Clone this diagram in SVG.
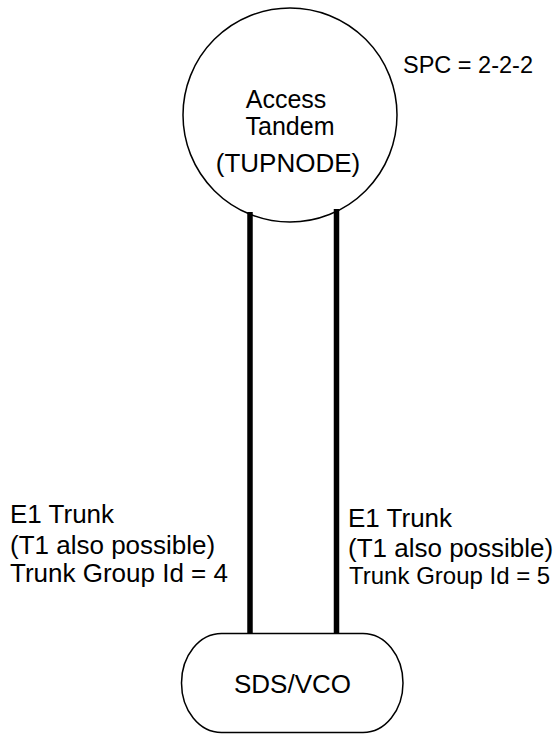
<svg xmlns="http://www.w3.org/2000/svg" width="560" height="734" viewBox="0 0 560 734">
<style>
text{font-family:"Liberation Sans",Arial,Helvetica,sans-serif;fill:#000}
.c{text-anchor:middle}
.node{fill:none;stroke:#000;stroke-width:1.5}
.trunk{stroke:#000;stroke-width:5.5;fill:none}
</style>
<rect width="560" height="734" fill="#fff"/>
<g id="connectors">
<line class="trunk" x1="250" y1="212" x2="250" y2="634"/>
<line class="trunk" x1="336.5" y1="209" x2="336.5" y2="634"/>
</g>
<g id="access-tandem">
<circle class="node" cx="290" cy="115" r="107"/>
<text class="c" x="286" y="108" font-size="25">Access</text>
<text class="c" x="290" y="135" font-size="25">Tandem</text>
<text class="c" x="288" y="172" font-size="26">(TUPNODE)</text>
</g>
<g id="spc-label">
<text x="403" y="73" font-size="23.5">SPC = 2-2-2</text>
</g>
<g id="sds-vco">
<rect class="node" x="181.5" y="633.5" width="221.5" height="99" rx="40" ry="49.5" stroke-width="1.3"/>
<text class="c" x="292.5" y="693" font-size="26">SDS/VCO</text>
</g>
<g id="trunk-label-4">
<text x="10" y="523" font-size="26">E1 Trunk</text>
<text x="10" y="554" font-size="26">(T1 also possible)</text>
<text x="10" y="582" font-size="26">Trunk Group Id = 4</text>
</g>
<g id="trunk-label-5">
<text x="348" y="527" font-size="26">E1 Trunk</text>
<text x="348" y="557" font-size="26">(T1 also possible)</text>
<text x="349" y="584" font-size="24">Trunk Group Id = 5</text>
</g>
</svg>
